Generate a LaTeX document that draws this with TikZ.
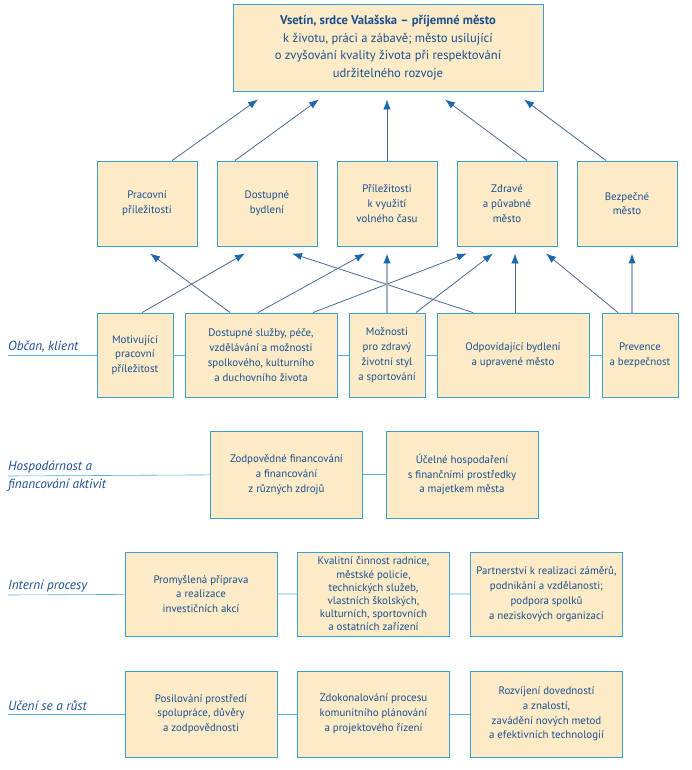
\documentclass[tikz,border=0pt]{standalone}
\usepackage{fontspec}
\setmainfont{PT Sans}
\usetikzlibrary{arrows.meta}
\definecolor{boxfill}{HTML}{FDEBC8}
\definecolor{boxline}{HTML}{3A9FD2}
\definecolor{txtblue}{HTML}{1B4F8E}
\definecolor{arrline}{HTML}{4A6890}
\definecolor{arrgray}{HTML}{A3AFC6}
\definecolor{arrtip}{HTML}{1D68AA}

\begin{document}
\begin{tikzpicture}[x=1pt,y=-1pt,font=\fontsize{10.9}{14.8}\selectfont,text=txtblue,
  box/.style={draw=boxline,fill=boxfill,line width=0.9pt,rectangle,align=center,inner sep=0pt},
  persp/.style={box,minimum width=100pt,minimum height=85pt},
  narrow/.style={box,minimum width=76pt,minimum height=84pt},
  wide/.style={box,minimum width=152pt,minimum height=84pt},
  arr/.style={draw=arrline,line width=0.8pt,-{Latex[length=10pt,width=7.5pt,color=arrtip]}},
  arrg/.style={arr,draw=arrgray,line width=1.4pt},
  hline/.style={draw=boxline!85,line width=0.6pt},
  lbl/.style={anchor=west,inner sep=0pt,align=left,font=\fontsize{13.2}{18.5}\selectfont\itshape}]
  \useasboundingbox (0,0) rectangle (691,770);

  \node (goal) at (388,47.5) [box,minimum width=310pt,minimum height=87pt,font=\fontsize{12.6}{17.5}\selectfont]
    {\textbf{Vsetín, srdce Valašska -- příjemné město}\\k životu, práci a zábavě; město usilující\\o zvyšování kvality života při respektování\\udržitelného rozvoje};

  \node (pr) at (147,203.5) [persp] {Pracovní\\příležitosti};
  \node (by) at (267,203.5) [persp] {Dostupné\\bydlení};
  \node (vc) at (387,203.5) [persp] {Příležitosti\\k využití\\volného času};
  \node (zd) at (507,203.5) [persp] {Zdravé\\a půvabné\\město};
  \node (bz) at (627,203.5) [persp] {Bezpečné\\město};

  \node (mot) at (135,355) [narrow] {Motivující\\pracovní\\příležitost};
  \node (sluz) at (261,355) [wide] {Dostupné služby, péče,\\vzdělávání a možnosti\\spolkového, kulturního\\a duchovního života};
  \node (moz) at (387,355) [narrow] {Možnosti\\pro zdravý\\životní styl\\a sportování};
  \node (odp) at (513,355) [wide] {Odpovídající bydlení\\a upravené město};
  \node (prev) at (640,355) [narrow] {Prevence\\a bezpečnost};

  \node (hf1) at (286.5,474.5) [wide,minimum height=87pt] {Zodpovědné financování\\a financování\\z různých zdrojů};
  \node (hf2) at (462,474.5) [wide,minimum height=87pt] {Účelné hospodaření\\s finančními prostředky\\a majetkem města};

  \node (ip1) at (201,594) [wide] {Promyšlená příprava\\a realizace\\investičních akcí};
  \node (ip2) at (373.5,594) [wide,font=\fontsize{10.9}{13.2}\selectfont] {Kvalitní činnost radnice,\\městské policie,\\technických služeb,\\vlastních školských,\\kulturních, sportovních\\a ostatních zařízení};
  \node (ip3) at (546.5,594) [wide] {Partnerství k realizaci záměrů,\\podnikání a vzdělanosti;\\podpora spolků\\a neziskových organizací};

  \node (us1) at (201,714) [wide,minimum height=86pt] {Posilování prostředí\\spolupráce, důvěry\\a zodpovědnosti};
  \node (us2) at (373.5,714) [wide,minimum height=86pt] {Zdokonalování procesu\\komunitního plánování\\a projektového řízení};
  \node (us3) at (546.5,714) [wide,minimum height=86pt] {Rozvíjení dovedností\\a znalostí,\\zavádění nových metod\\a efektivních technologií};

  % row labels
  \node (obcan) at (8,347) [lbl] {Občan, klient};
  \node (hosp) at (8,476) [lbl] {Hospodárnost a\\financování aktivit};
  \node (proc) at (8,586) [lbl] {Interní procesy};
  \node (uceni) at (8,706) [lbl] {Učení se a růst};

  \coordinate (c1) at (8,355); % line start
  \coordinate (c2) at (8,476);
  \coordinate (c3) at (8,595);
  \coordinate (c4) at (8,714);

  \draw[hline] (c1) -- (mot) -- (sluz) -- (moz) -- (odp) -- (prev);
  \draw[hline] (c2) -- (hf1) -- (hf2);
  \draw[hline] (c3) -- (ip1) -- (ip2) -- (ip3);
  \draw[hline] (c4) -- (us1) -- (us2) -- (us3);

  \draw[arr] ([xshift=25pt]pr.north) -- ([xshift=-130pt,yshift=-8pt]goal.south);
  \draw[arr] ([xshift=-32pt]by.north) -- ([xshift=-69pt,yshift=-8pt]goal.south);
  \draw[arr] (vc.north) -- ([xshift=-1pt,yshift=-8pt]goal.south);
  \draw[arr] ([xshift=20pt]zd.north) -- ([xshift=57pt,yshift=-8pt]goal.south);
  \draw[arr] ([xshift=-21pt]bz.north) -- ([xshift=136pt,yshift=-8pt]goal.south);

  \draw[arr] ([xshift=7pt]mot.north) -- ([xshift=-22pt,yshift=-7pt]by.south);
  \draw[arr] ([xshift=-31pt]sluz.north) -- ([xshift=3pt,yshift=-7pt]pr.south);
  \draw[arr] ([xshift=-3pt]sluz.north) -- ([xshift=-22pt,yshift=-7pt]vc.south);
  \draw[arr] ([xshift=52pt]sluz.north) -- ([xshift=-40pt,yshift=-7pt]zd.south);
  \draw[arr] ([xshift=-40pt]odp.north) -- ([xshift=25pt,yshift=-7pt]by.south);
  \draw[arrg] (moz.north) -- ([yshift=-7pt]vc.south);
  \draw[arr] ([xshift=29pt]moz.north) -- ([xshift=-14pt,yshift=-7pt]zd.south);
  \draw[arr] ([xshift=2pt]odp.north) -- ([xshift=8pt,yshift=-7pt]zd.south);
  \draw[arr] ([xshift=-22pt]prev.north) -- ([xshift=39pt,yshift=-7pt]zd.south);
  \draw[arrg] ([xshift=-8pt]prev.north) -- ([xshift=5pt,yshift=-7pt]bz.south);
\end{tikzpicture}
\end{document}
